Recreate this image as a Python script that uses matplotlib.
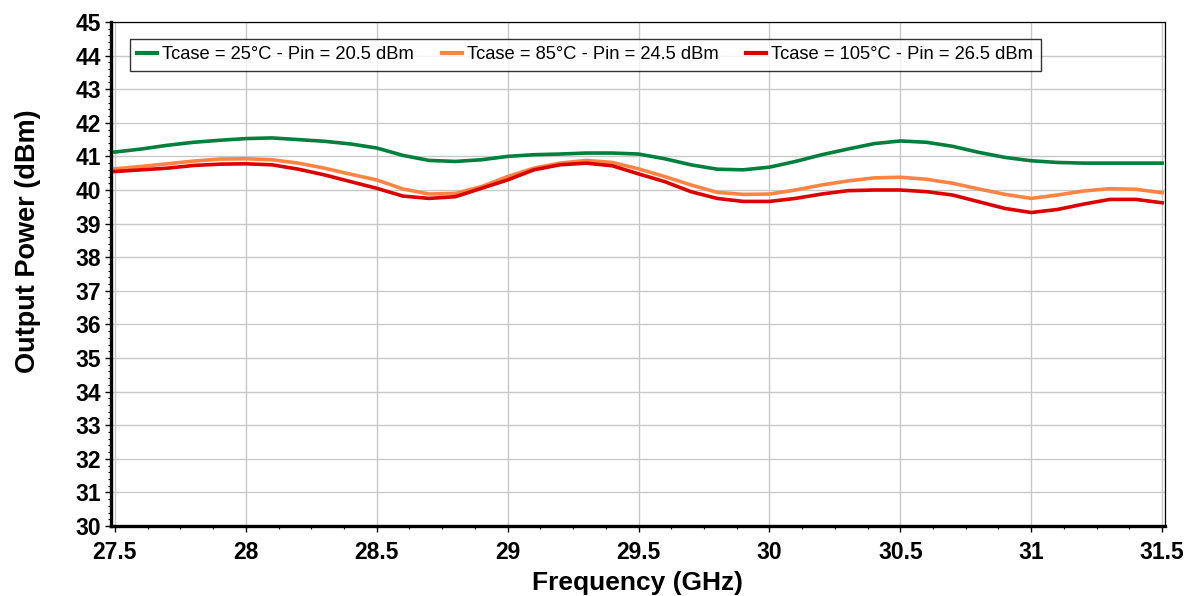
import numpy as np
import matplotlib
matplotlib.use("Agg")
import matplotlib.pyplot as plt
from matplotlib.ticker import MultipleLocator

# frequency grid (GHz) and output power curves (dBm)
freq = [27.5, 27.6, 27.7, 27.8, 27.9, 28.0, 28.1, 28.2, 28.3, 28.4,
        28.5, 28.6, 28.7, 28.8, 28.9, 29.0, 29.1, 29.2, 29.3, 29.4,
        29.5, 29.6, 29.7, 29.8, 29.9, 30.0, 30.1, 30.2, 30.3, 30.4,
        30.5, 30.6, 30.7, 30.8, 30.9, 31.0, 31.1, 31.2, 31.3, 31.4, 31.5]

pout_25c = [41.13, 41.22, 41.33, 41.42, 41.48, 41.53, 41.55, 41.50, 41.45, 41.37,
            41.25, 41.03, 40.88, 40.85, 40.90, 41.00, 41.05, 41.07, 41.10, 41.10,
            41.07, 40.93, 40.75, 40.62, 40.60, 40.68, 40.85, 41.05, 41.22, 41.38,
            41.46, 41.42, 41.30, 41.12, 40.97, 40.87, 40.82, 40.80, 40.80, 40.80, 40.80]

pout_85c = [40.63, 40.70, 40.78, 40.86, 40.92, 40.93, 40.90, 40.80, 40.65, 40.47,
            40.30, 40.03, 39.88, 39.90, 40.10, 40.40, 40.65, 40.80, 40.88, 40.82,
            40.63, 40.40, 40.15, 39.93, 39.87, 39.88, 40.00, 40.15, 40.27, 40.36,
            40.38, 40.32, 40.20, 40.03, 39.87, 39.75, 39.85, 39.97, 40.04, 40.02, 39.92]

pout_105c = [40.55, 40.60, 40.65, 40.73, 40.77, 40.78, 40.75, 40.62, 40.45, 40.25,
             40.05, 39.82, 39.75, 39.80, 40.05, 40.30, 40.60, 40.75, 40.80, 40.72,
             40.48, 40.25, 39.95, 39.75, 39.66, 39.66, 39.75, 39.88, 39.98, 40.00,
             40.00, 39.95, 39.85, 39.65, 39.45, 39.33, 39.42, 39.58, 39.72, 39.72, 39.62]

labels = ["Tcase = 25°C - Pin = 20.5 dBm",
          "Tcase = 85°C - Pin = 24.5 dBm",
          "Tcase = 105°C - Pin = 26.5 dBm"]
colors = ["#00803c", "#ff8444", "#dd0000"]

plt.rcParams["font.family"] = ["Liberation Sans", "DejaVu Sans"]

fig = plt.figure(figsize=(11.91, 5.96), dpi=100)
ax = fig.add_axes([111 / 1191, 70 / 596, 1054 / 1191, 504 / 596])

for series, lab, col in zip([pout_25c, pout_85c, pout_105c], labels, colors):
    ax.plot(freq, series, color=col, lw=2.6, label=lab, solid_joinstyle="round")

ax.set_xlim(27.485, 31.511)
ax.set_ylim(30, 45)
ax.xaxis.set_minor_locator(MultipleLocator(0.125))
ax.yaxis.set_major_locator(MultipleLocator(1))
ax.yaxis.set_minor_locator(MultipleLocator(0.2))
ax.set_xticks(np.arange(27.5, 31.51, 0.5))
ax.set_xticklabels(["27.5", "28", "28.5", "29", "29.5", "30", "30.5", "31", "31.5"])

ax.grid(True, which="major", color="#c8c8c8", lw=1.0)
ax.set_axisbelow(True)

ax.tick_params(which="major", direction="out", length=4, width=1, labelsize=16.5)
ax.tick_params(axis="y", which="major", pad=3)
ax.tick_params(axis="x", which="major", pad=7)
ax.tick_params(which="minor", direction="out", length=2, width=0.8)
for lab in ax.get_xticklabels() + ax.get_yticklabels():
    lab.set_fontweight("bold")

ax.spines["left"].set_linewidth(2.4)
ax.spines["bottom"].set_linewidth(2.4)
ax.spines["top"].set_linewidth(0.9)
ax.spines["right"].set_linewidth(0.9)

ax.set_xlabel("Frequency (GHz)", fontsize=19, fontweight="bold", labelpad=5)
ax.set_ylabel("Output Power (dBm)", fontsize=19.5, fontweight="bold")
ax.yaxis.set_label_coords(-0.066, 0.565)

leg = ax.legend(loc="upper left", bbox_to_anchor=(0.018, 0.966), borderaxespad=0,
                ncol=3, fontsize=13.2, frameon=True, fancybox=False,
                handlelength=1.1, handletextpad=0.27, columnspacing=1.5,
                borderpad=0.4)
leg.get_frame().set_edgecolor("black")
leg.get_frame().set_linewidth(1.0)
for line in leg.get_lines():
    line.set_linewidth(3)

fig.savefig("out.png", dpi=100)
